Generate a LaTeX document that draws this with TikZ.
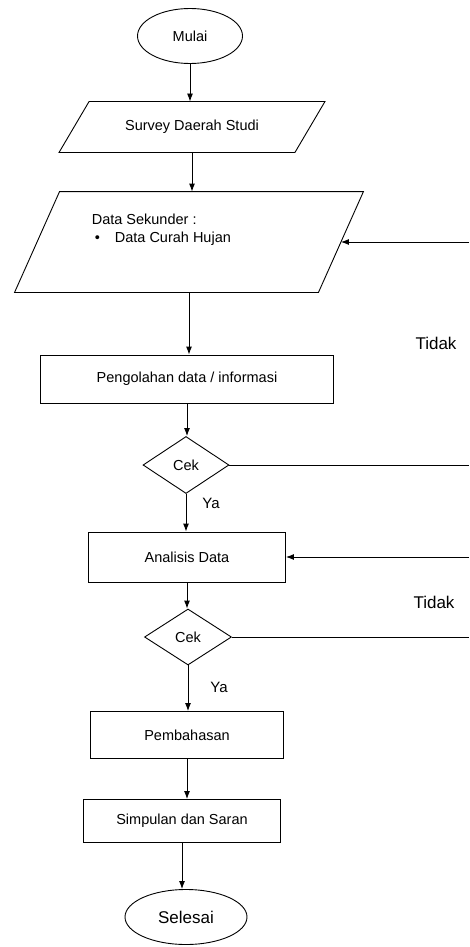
\documentclass[tikz,border=0pt]{standalone}
\usepackage{fontspec}
\setmainfont{Liberation Sans}
\usetikzlibrary{arrows.meta,shapes.geometric}

\tikzset{
  terminal/.style={draw, ellipse, inner sep=0pt},
  dataio/.style={rectangle, inner sep=0pt},
  proses/.style={draw, rectangle, inner sep=0pt},
  cek/.style={draw, diamond, inner sep=0pt},
  teks/.style={font=\fontsize{14.5}{17}\selectfont},
  jawab/.style={font=\fontsize{17}{20}\selectfont}
}

% parallelogram around a node: #1 = node, #2 = half of the slant
\newcommand{\jajargenjang}[2]{%
  \draw ([xshift=#2]#1.north west) -- ([xshift=#2]#1.north east)
     -- ([xshift=-#2]#1.south east) -- ([xshift=-#2]#1.south west) -- cycle;}

\begin{document}
\begin{tikzpicture}[x=1pt,y=-1pt,>={Latex[length=8pt,width=6pt]},line width=0.9pt,every node/.style={teks}]
        \useasboundingbox (0,0) rectangle (469,947);
        \node[terminal, minimum width=105pt, minimum height=55pt] (mulai) at (190,36) {Mulai};
        \node[dataio, minimum width=235pt, minimum height=50pt] (survey) at (192,127) {Survey Daerah Studi};
        \node[dataio, minimum width=303pt, minimum height=100pt] (data) at (189,242) {};
        \node[anchor=west] (sekunder) at (88,219) {Data Sekunder :};
        \node[anchor=west] (curah) at (91,239) {\textbullet\hspace{15pt}Data Curah Hujan};
        \node[proses, minimum width=293pt, minimum height=48pt] (olah) at (187,379) {Pengolahan data / informasi};
        \node[cek, minimum width=86pt, minimum height=57pt] (cek1) at (186,465) {Cek};
        \node[proses, minimum width=197pt, minimum height=50pt] (analisis) at (187,557) {Analisis Data};
        \node[cek, minimum width=87pt, minimum height=56pt] (cek2) at (188,637) {Cek};
        \node[proses, minimum width=193pt, minimum height=47pt] (bahas) at (187,735) {Pembahasan};
        \node[proses, minimum width=197pt, minimum height=43pt] (simpul) at (182,821) {Simpulan dan Saran};
        \node[terminal, minimum width=122pt, minimum height=55pt, jawab] (selesai) at (186,917) {Selesai};

        \jajargenjang{survey}{15pt}
        \jajargenjang{data}{22.5pt}

        \node[jawab] (tidak1) at (436,343) {Tidak};
        \node[jawab] (tidak2) at (434,602) {Tidak};
        \node[font=\fontsize{15}{18}\selectfont] (ya1) at (211,503) {Ya};
        \node[font=\fontsize{15}{18}\selectfont] (ya2) at (219,687) {Ya};

        \coordinate (balik1) at (469,242);
        \coordinate (balik2) at (469,557);

        \draw[->] (mulai) -- (mulai |- survey.north);
        \draw[->] (survey) -- (survey |- data.north);
        \draw[->] (data) -- (data |- olah.north);
        \draw[->] (olah) -- (olah |- cek1.north);
        \draw[->] (cek1) -- (cek1 |- analisis.north);
        \draw[->] (analisis) -- (analisis |- cek2.north);
        \draw[->] (cek2) -- (cek2 |- bahas.north);
        \draw[->] (bahas) -- (bahas |- simpul.north);
        \draw[->] (simpul) -- (simpul |- selesai.north);

        \draw (cek1.east) -- (cek1.east -| balik1);
        \draw[->] (balik1) -- (data.east);
        \draw (cek2.east) -- (cek2.east -| balik2);
        \draw[->] (balik2) -- (analisis);
    \end{tikzpicture}
\end{document}
